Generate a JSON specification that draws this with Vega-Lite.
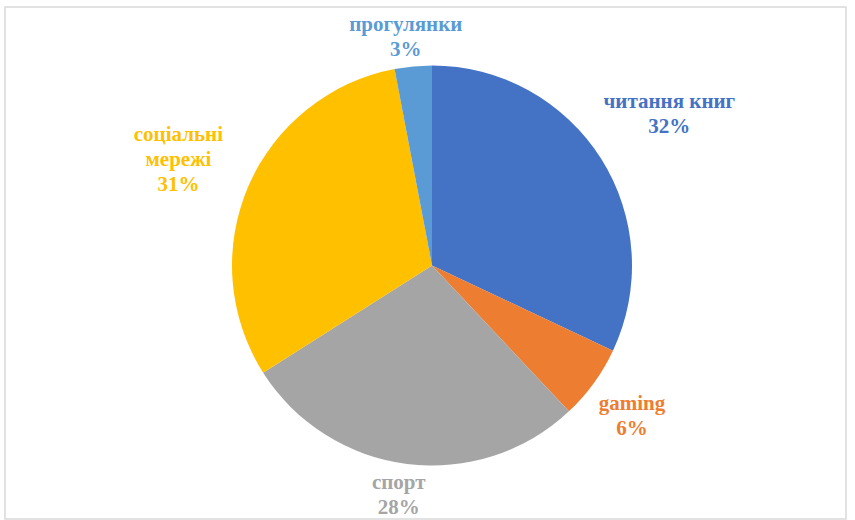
{
  "$schema": "https://vega.github.io/schema/vega-lite/v6.json",
  "width": 841,
  "height": 512,
  "autosize": "none",
  "padding": {"left": 5, "top": 7, "right": 9, "bottom": 1},
  "background": "white",
  "config": {"view": {"stroke": null}},
  "data": {
    "values": [
      {"n": 1, "category": "читання книг", "label": "читання  книг", "value": 32},
      {"n": 2, "category": "gaming", "label": "gaming", "value": 6},
      {"n": 3, "category": "спорт", "label": "спорт", "value": 28},
      {"n": 4, "category": "соціальні мережі", "label": "соціальні\nмережі", "value": 31},
      {"n": 5, "category": "прогулянки", "label": "прогулянки", "value": 3}
    ]
  },
  "transform": [
    {"calculate": "datum.label + '\\n' + datum.value + '%'", "as": "text"}
  ],
  "layer": [
    {
      "mark": {"type": "rect", "fill": null, "stroke": "#d9d9d9", "strokeWidth": 1.5},
      "transform": [{"filter": "datum.n == 1"}],
      "encoding": {}
    },
    {
      "mark": {"type": "arc", "outerRadius": 200, "xOffset": 6.5, "yOffset": 2.5},
      "encoding": {
        "theta": {"field": "value", "type": "quantitative", "stack": true},
        "order": {"field": "n", "type": "quantitative"},
        "color": {
          "field": "category",
          "type": "nominal",
          "legend": null,
          "scale": {
            "domain": ["читання книг", "gaming", "спорт", "соціальні мережі", "прогулянки"],
            "range": ["#4472C4", "#ED7D31", "#A5A5A5", "#FFC000", "#5B9BD5"]
          }
        }
      }
    },
    {
      "mark": {
        "type": "text",
        "xOffset": 2,
        "yOffset": 5,
        "radius": {"expr": "226 + 5.5 * length(split(datum.text, '\\n')[0]) * abs(sin((datum.value_start + datum.value_end) / 2 / 100 * 2 * PI))"},
        "dy": {"expr": "-(length(split(datum.text, '\\n')) - 1) * 12.5"},
        "font": "Liberation Serif",
        "fontWeight": "bold",
        "fontSize": 21,
        "lineHeight": 25,
        "lineBreak": "\n",
        "align": "center",
        "baseline": "middle"
      },
      "encoding": {
        "theta": {"field": "value", "type": "quantitative", "stack": true},
        "order": {"field": "n", "type": "quantitative"},
        "text": {"field": "text", "type": "nominal"},
        "color": {
          "field": "category",
          "type": "nominal",
          "legend": null,
          "scale": {
            "domain": ["читання книг", "gaming", "спорт", "соціальні мережі", "прогулянки"],
            "range": ["#4472C4", "#ED7D31", "#A5A5A5", "#FFC000", "#5B9BD5"]
          }
        }
      }
    }
  ]
}
